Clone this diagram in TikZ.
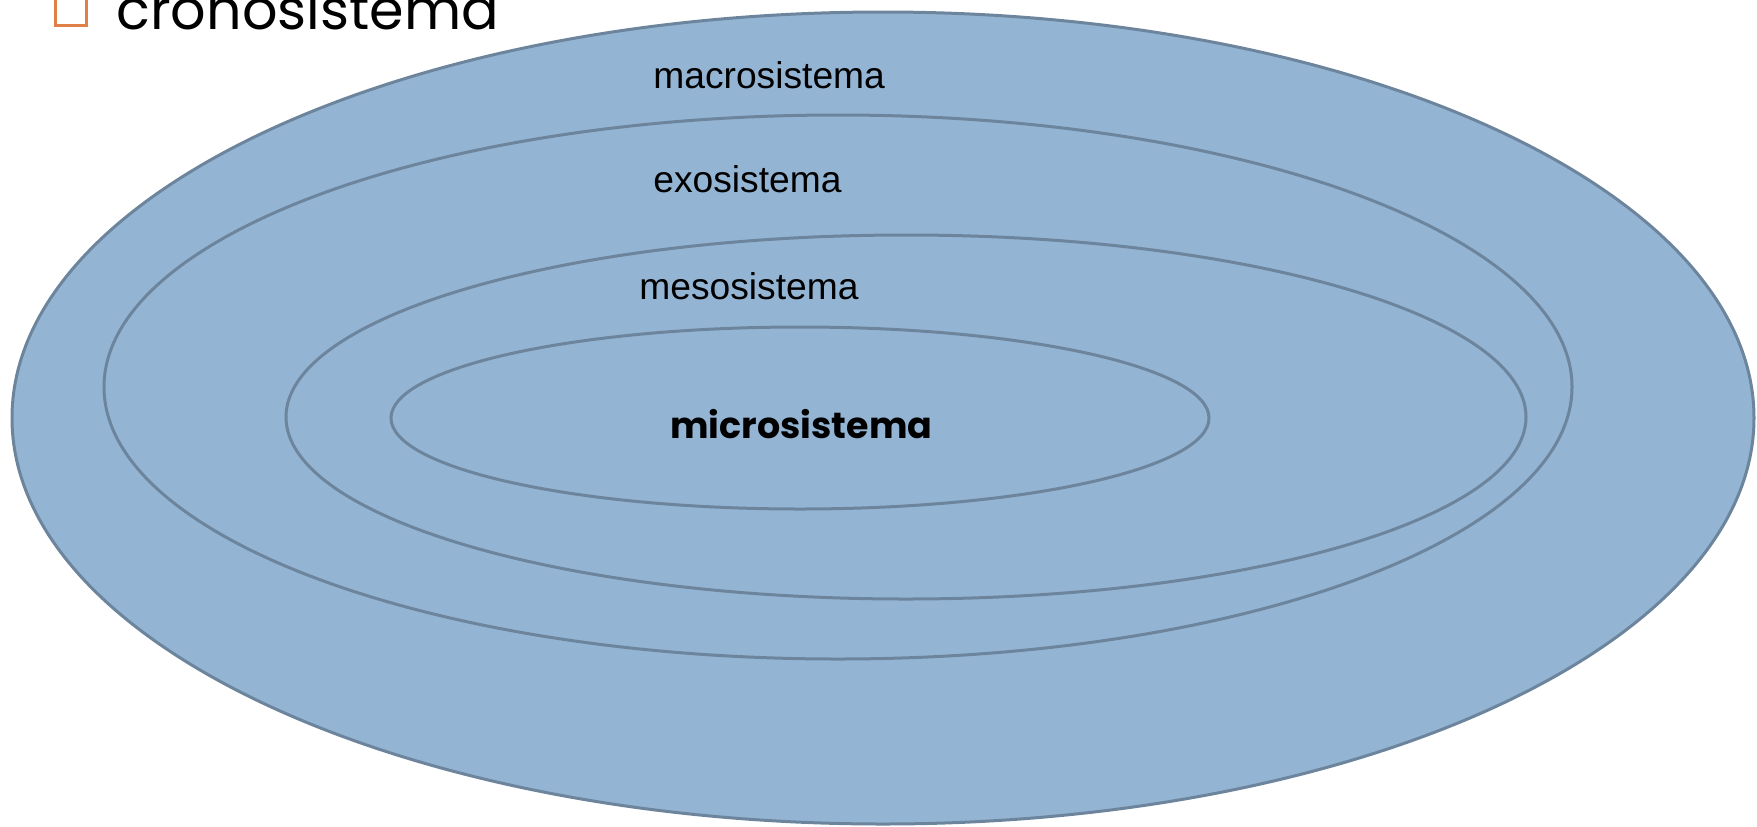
\documentclass[tikz,border=0pt]{standalone}
\usepackage{fontspec}
\setmainfont{Liberation Sans}
\newfontfamily\geo{Poppins}
\usetikzlibrary{shapes.geometric}
\definecolor{ringfill}{RGB}{148,180,211}
\definecolor{ringline}{RGB}{108,133,157}
\definecolor{bulletor}{RGB}{224,128,72}
\tikzset{
  ring/.style={ellipse, draw=ringline, fill=ringfill, line width=1.5pt, inner sep=0pt},
  lab/.style={anchor=west, inner sep=0pt, font=\fontsize{18.6}{20}\selectfont},
}
\begin{document}
\begin{tikzpicture}[x=0.5pt,y=-0.5pt]
\useasboundingbox (0,0) rectangle (1757,826);
\clip (0,0) rectangle (1757,826);
\node[ring, minimum width=871pt, minimum height=406pt] (macro) at (883,418) {};
\node[ring, minimum width=734pt, minimum height=272pt] (exo) at (838,387) {};
\node[ring, minimum width=620pt, minimum height=182pt] (meso) at (906,417) {};
\node[ring, minimum width=409pt, minimum height=91pt] (micro) at (800,418) {};
\node[lab] (tmacro) at (653,75) {macrosistema};
\node[lab] (texo) at (653,179) {exosistema};
\node[lab] (tmeso) at (639,286) {mesosistema};
\node[anchor=west, inner sep=0pt, font=\geo\bfseries\fontsize{18.2}{20}\selectfont] (tmicro) at (670,424) {microsistema};
\node[anchor=base west, inner sep=0pt, font=\geo\fontsize{27.8}{30}\selectfont] (tcrono) at (116,29) {cronosistema};
\node[draw=bulletor, line width=1.4pt, minimum size=15.5pt, inner sep=0pt, anchor=south west] (bullet) at (54,27) {};
\end{tikzpicture}
\end{document}
